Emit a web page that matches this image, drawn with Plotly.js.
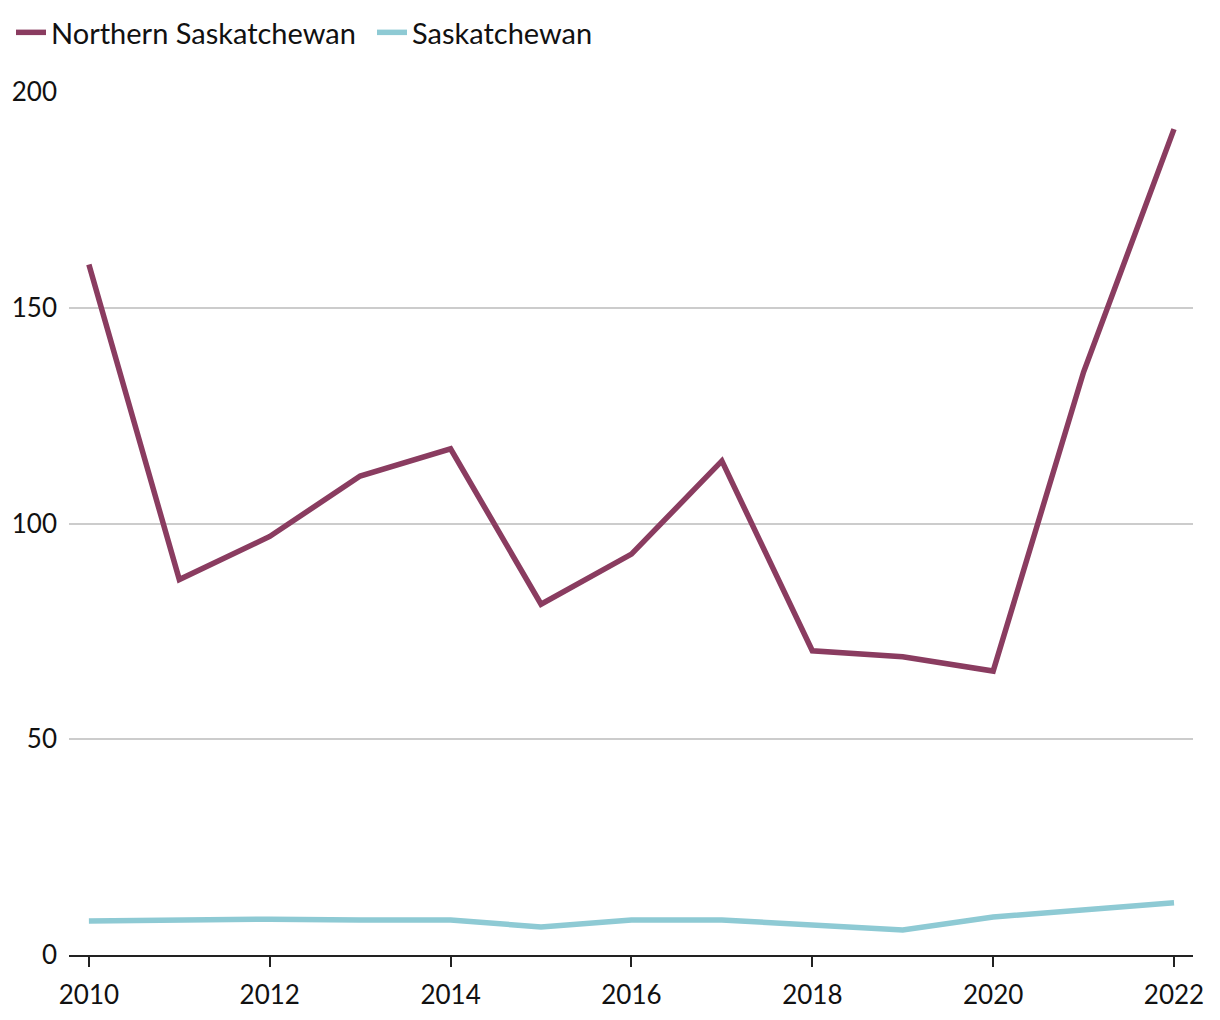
<!DOCTYPE html>
<html>
<head>
<meta charset="utf-8">
<script src="https://cdn.plot.ly/plotly-3.0.1.min.js"></script>
<style>html,body{margin:0;padding:0;background:#fff;}#chart{width:1220px;height:1020px;}</style>
</head>
<body>
<div id="chart"></div>
<script>
var years = [2010, 2011, 2012, 2013, 2014, 2015, 2016, 2017, 2018, 2019, 2020, 2021, 2022];
var northernSask = [160, 87, 97, 111, 117.3, 81.3, 92.9, 114.5, 70.5, 69.1, 65.8, 135.1, 191.4];
var sask = [7.9, 8.1, 8.3, 8.1, 8.1, 6.5, 8.1, 8.1, 7.0, 5.8, 8.8, 10.4, 12.1];
var xTicks = [2010, 2012, 2014, 2016, 2018, 2020, 2022];
var yTicks = [0, 50, 100, 150, 200];

var font = "Lato, 'Noto Sans', sans-serif";
var traces = [
  {x: years, y: northernSask, name: 'Northern Saskatchewan', type: 'scatter', mode: 'lines',
   line: {color: '#8a3c60', width: 5.5}},
  {x: years, y: sask, name: 'Saskatchewan', type: 'scatter', mode: 'lines',
   line: {color: '#8ecad4', width: 5.5}}
];
var layout = {
  width: 1220, height: 1020,
  margin: {l: 69, r: 27, t: 92, b: 65},
  paper_bgcolor: '#fff', plot_bgcolor: '#fff',
  font: {family: font, color: '#111', size: 26},
  showlegend: true,
  legend: {orientation: 'h', xref: 'container', yref: 'container', x: 11 / 1220, y: 1 - 7 / 1020,
           xanchor: 'left', yanchor: 'top', entrywidth: 316,
           font: {size: 29, family: font, color: '#111'}, itemwidth: 30, traceorder: 'normal'},
  xaxis: {range: [2009.78, 2022.21], tickvals: xTicks, ticktext: xTicks.map(String),
          showgrid: false, zeroline: false, showline: true, linecolor: '#222', linewidth: 2,
          ticks: 'outside', ticklen: 10, tickwidth: 2, tickcolor: '#222', ticklabelstandoff: 6,
          tickfont: {size: 26}},
  yaxis: {range: [0, 200], tickvals: yTicks, showgrid: true, gridcolor: '#cccccc', gridwidth: 1.5,
          zeroline: false, showline: false, ticks: '', ticklabelstandoff: 11, tickfont: {size: 26}}
};
Plotly.newPlot('chart', traces, layout, {displayModeBar: false});
</script>
</body>
</html>
